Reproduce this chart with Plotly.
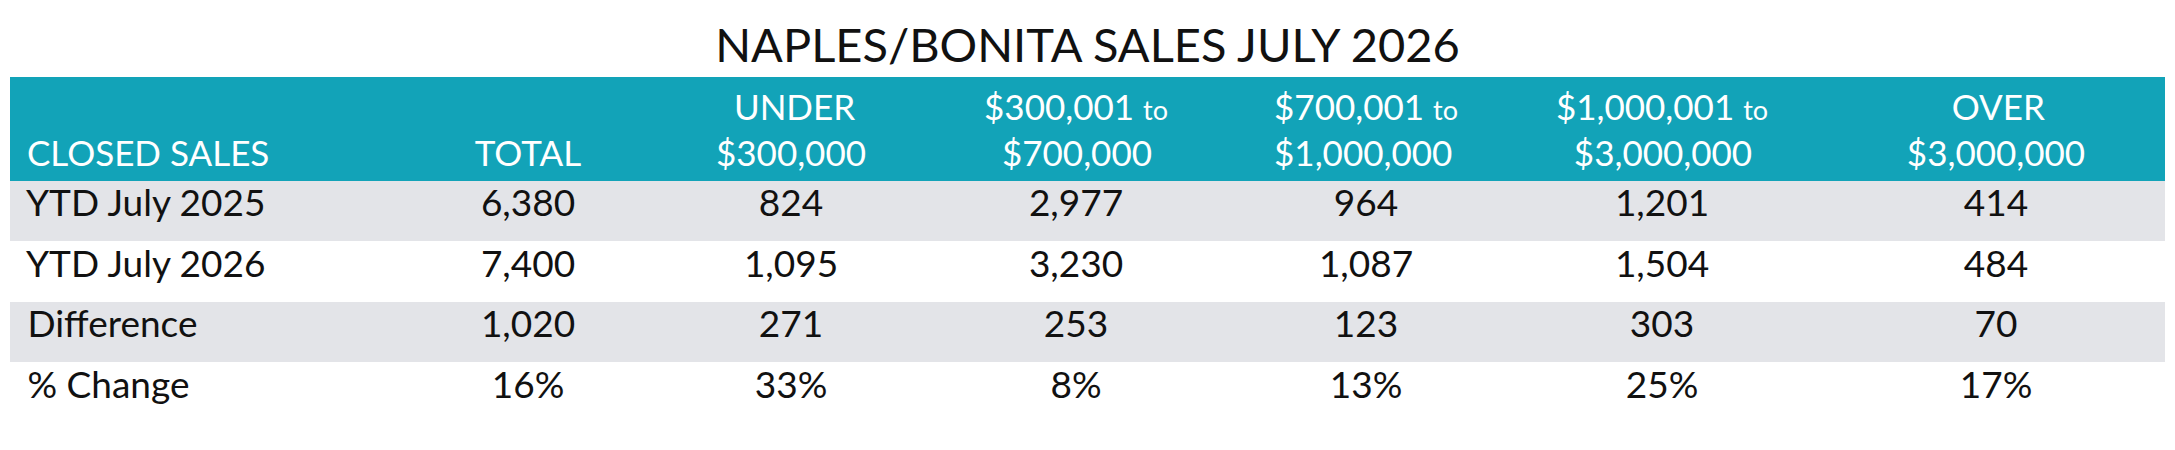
import plotly.graph_objects as go

# Table values
title_text = "NAPLES/BONITA SALES JULY 2026"
header_top = ["", "", "UNDER", "$300,001 to", "$700,001 to", "$1,000,001 to", "OVER"]
header_bottom = ["CLOSED SALES", "TOTAL", "$300,000", "$700,000",
                 "$1,000,000", "$3,000,000", "$3,000,000"]
row_labels = ["YTD July 2025", "YTD July 2026", "Difference", "% Change"]
total = ["6,380", "7,400", "1,020", "16%"]
under_300k = ["824", "1,095", "271", "33%"]
from_300k_700k = ["2,977", "3,230", "253", "8%"]
from_700k_1m = ["964", "1,087", "123", "13%"]
from_1m_3m = ["1,201", "1,504", "303", "25%"]
over_3m = ["414", "484", "70", "17%"]

TEAL = "#12a3b8"
GRAY = "#e3e4e8"
FONT = "Lato"

# the page body has an 8px margin, so the figure is drawn 8px in
PAGE_W, PAGE_H, M = 2175, 450, 8
W, H = PAGE_W - 2 * M, PAGE_H - 2 * M
left, right, top, bottom = 10 - M, 2165 - M, 77 - M, 418 - M

NB = "\u00a0"
# plotly keeps multi-line cell text left-aligned, so nudge the shorter line
top_pad = [0, 0, 2, 0, 0, 0, 5]
bottom_pad = [1, 0, 0, 2, 0, 2, 0]


def small_to(s):
    return s.replace(" to", " <span style='font-size:27px'>to</span>")


header_labels = []
for t, b, pt, pb in zip(header_top, header_bottom, top_pad, bottom_pad):
    first = NB * pt + small_to(t) if t else NB
    header_labels.append(first + "<br>" + NB * pb + b)

labels = [NB + s for s in row_labels]
row_fill = [GRAY, "white", GRAY, "white"]

fig = go.Figure(go.Table(
    domain=dict(x=[left / W, right / W], y=[1 - bottom / H, 1 - top / H]),
    columnwidth=[381, 274, 252, 318, 262, 330, 338],
    header=dict(
        values=header_labels,
        fill_color=TEAL,
        line=dict(color=TEAL, width=0),
        align=["left"] + ["center"] * 6,
        font=dict(family=FONT, size=35, color="white"),
        height=99,
    ),
    cells=dict(
        values=[labels, total, under_300k, from_300k_700k,
                from_700k_1m, from_1m_3m, over_3m],
        fill_color=[row_fill] * 7,
        line=dict(color="white", width=0),
        align=["left"] + ["center"] * 6,
        font=dict(family=FONT, size=37, color="#111111"),
        height=60.5,
    ),
))

fig.update_layout(
    width=W, height=H,
    margin=dict(l=0, r=0, t=0, b=0),
    paper_bgcolor="white",
    title=dict(text=title_text, x=(1087.5 - M) / W, xanchor="center",
               y=1 - (45.5 - M) / H, yref="container", yanchor="middle",
               font=dict(family=FONT, size=47, color="#111111")),
)

fig.write_html("out.html")
